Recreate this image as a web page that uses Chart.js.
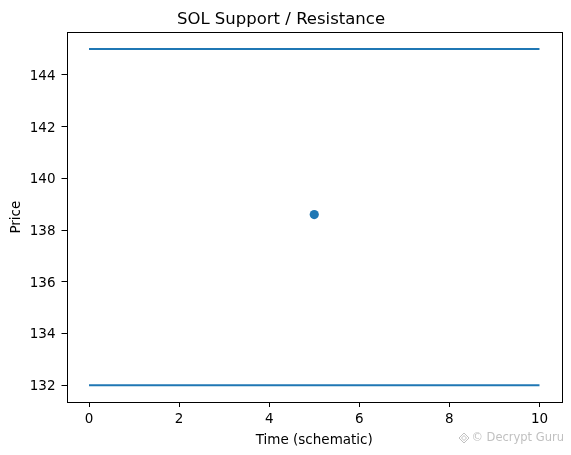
<!DOCTYPE html>
<html>
<head>
<meta charset="utf-8">
<script src="https://cdn.jsdelivr.net/npm/chart.js@4/dist/chart.umd.min.js"></script>
<style>
html,body{margin:0;padding:0;background:#fff;}
#wrap{width:571px;height:455px;}
</style>
</head>
<body>
<div id="wrap"><canvas id="c" width="571" height="455"></canvas></div>
<script>
// Data
const timeX = [0, 10];
const resistance = [145, 145];
const support = [132, 132];
const currentTime = [5];
const currentPrice = [138.6];
const xTicks = [0, 2, 4, 6, 8, 10];
const yTicks = [132, 134, 136, 138, 140, 142, 144];
const xRange = [-0.5, 10.5];
const yRange = [131.35, 145.65];

const blue = '#1f77b4';
const FONT = 'DejaVu Sans';

const toPts = (xs, ys) => xs.map((x, i) => ({x: x, y: ys[i]}));

const frame = {
  id: 'frame',
  afterDraw(chart) {
    const a = chart.chartArea, ctx = chart.ctx;
    ctx.save();
    ctx.strokeStyle = '#000';
    ctx.lineWidth = 1;
    ctx.strokeRect(Math.round(a.left) + 0.5, Math.round(a.top) + 0.5,
      Math.round(a.right - a.left) - 1, Math.round(a.bottom - a.top));
    // watermark
    ctx.fillStyle = 'rgba(150,150,150,0.6)';
    ctx.strokeStyle = 'rgba(150,150,150,0.6)';
    ctx.font = '11.5px ' + FONT;
    ctx.textAlign = 'right';
    ctx.textBaseline = 'middle';
    ctx.fillText('\u00A9 Decrypt Guru', 564, 438);
    const cx = 464, cy = 438;
    ctx.beginPath();
    ctx.moveTo(cx, cy - 5); ctx.lineTo(cx + 5, cy); ctx.lineTo(cx, cy + 5); ctx.lineTo(cx - 5, cy); ctx.closePath();
    ctx.stroke();
    ctx.beginPath();
    ctx.moveTo(cx, cy - 2.5); ctx.lineTo(cx + 2.5, cy); ctx.lineTo(cx, cy + 2.5); ctx.lineTo(cx - 2.5, cy); ctx.closePath();
    ctx.stroke();
    ctx.restore();
  }
};

new Chart(document.getElementById('c'), {
  type: 'scatter',
  data: {
    datasets: [
      {data: toPts(timeX, resistance), showLine: true, borderColor: blue, borderWidth: 2, pointRadius: 0, order: 2},
      {data: toPts(timeX, support), showLine: true, borderColor: blue, borderWidth: 2, pointRadius: 0, order: 2},
      {data: toPts(currentTime, currentPrice), showLine: false, backgroundColor: blue, borderColor: blue, borderWidth: 0, pointRadius: 4.6, order: 1}
    ]
  },
  plugins: [frame],
  options: {
    responsive: false,
    animation: false,
    devicePixelRatio: 1,
    layout: {padding: {left: 0, right: 9, top: 0, bottom: 0}},
    plugins: {
      legend: {display: false},
      tooltip: {enabled: false},
      title: {
        display: true,
        text: 'SOL Support / Resistance',
        color: '#000',
        font: {family: FONT, size: 16.5, weight: 'normal', lineHeight: 1.2},
        padding: {top: 10, bottom: 2.5}
      }
    },
    scales: {
      x: {
        type: 'linear',
        min: xRange[0], max: xRange[1],
        afterBuildTicks: s => { s.ticks = xTicks.map(v => ({value: v})); },
        afterFit: s => { s.height = 53; },
        grid: {display: true, drawOnChartArea: false, drawTicks: true, tickLength: 5, color: '#000', tickColor: '#000'},
        border: {display: false},
        ticks: {color: '#000', padding: 4, font: {family: FONT, size: 13.5}, maxRotation: 0, autoSkip: false},
        title: {display: true, text: 'Time (schematic)', color: '#000', font: {family: FONT, size: 13.5}, padding: {top: 2, bottom: 6}}
      },
      y: {
        type: 'linear',
        min: yRange[0], max: yRange[1],
        afterBuildTicks: s => { s.ticks = yTicks.map(v => ({value: v})); },
        afterFit: s => { s.width = 66.5; },
        grid: {display: true, drawOnChartArea: false, drawTicks: true, tickLength: 5, color: '#000', tickColor: '#000'},
        border: {display: false},
        ticks: {color: '#000', padding: 6, labelOffset: 1.5, font: {family: FONT, size: 13.5}, autoSkip: false},
        title: {display: true, text: 'Price', color: '#000', font: {family: FONT, size: 13.5}, padding: {top: 8, bottom: 4}}
      }
    }
  }
});
</script>
</body>
</html>
